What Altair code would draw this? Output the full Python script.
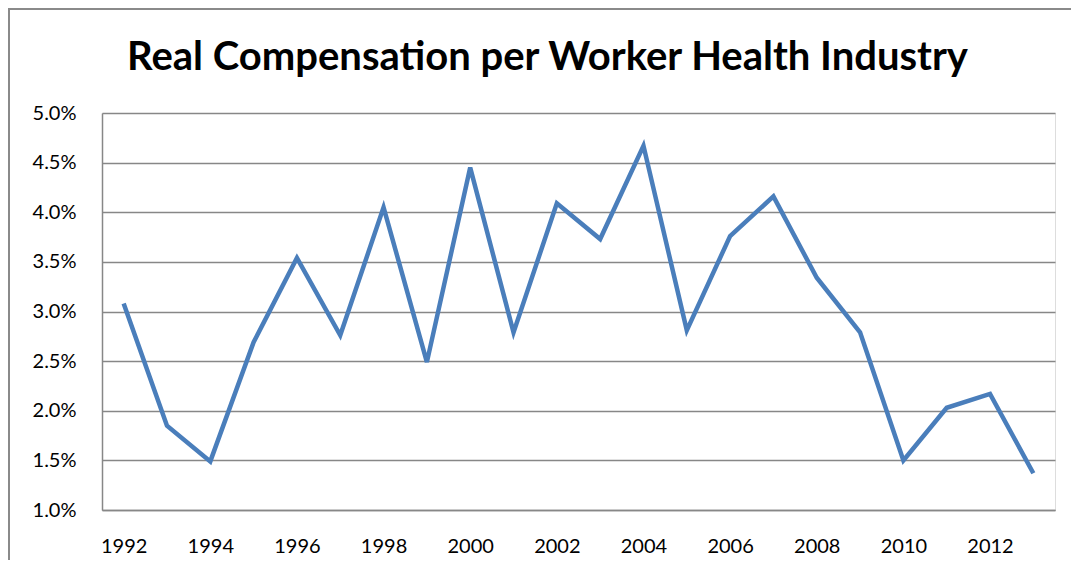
import altair as alt
import pandas as pd

years = [str(y) for y in range(1992, 2014)]
values = [3.08, 1.85, 1.49, 2.69, 3.54, 2.76, 4.05, 2.49, 4.45, 2.79,
          4.09, 3.73, 4.67, 2.81, 3.76, 4.16, 3.34, 2.79, 1.50, 2.03, 2.17, 1.37]
label_years = [str(y) for y in range(1992, 2014, 2)]
y_ticks = [1.0, 1.5, 2.0, 2.5, 3.0, 3.5, 4.0, 4.5, 5.0]

df = pd.DataFrame({"year": years, "value": [v / 100 for v in values]})

FONT = "Lato"
GRID = "#878787"
W, H = 953, 397

line = alt.Chart(df).mark_line(color="#4a7ebb", strokeWidth=4.5, strokeJoin="miter").encode(
    x=alt.X("year:O", sort=years,
            scale=alt.Scale(paddingInner=0, paddingOuter=0),
            axis=alt.Axis(title=None, values=label_years, labelAngle=0, ticks=False,
                          domainColor=GRID, domainWidth=1.5, labelPadding=26,
                          labelFontSize=20, labelFont=FONT, labelColor="#000000")),
    y=alt.Y("value:Q",
            scale=alt.Scale(domain=[0.01, 0.05], nice=False, zero=False),
            axis=alt.Axis(title=None, values=[v / 100 for v in y_ticks], format=".1%",
                          ticks=False, domainColor=GRID, domainWidth=1.5,
                          gridColor=GRID, gridWidth=1.5, labelPadding=26,
                          labelFontSize=20, labelFont=FONT, labelColor="#000000")),
)

border = alt.Chart(df).mark_rect(fill=None, stroke="#8a8a8a", strokeWidth=1.5, clip=False).encode(
    x=alt.value(-93), x2=alt.value(W + 40),
    y=alt.value(-104), y2=alt.value(H + 80),
)

chart = alt.layer(border, line).properties(
    width=W, height=H,
    title=alt.TitleParams("Real Compensation per Worker Health Industry",
                          font=FONT, fontSize=40, fontWeight="bold", color="#000000",
                          anchor="middle", offset=-70, dx=-31),
    autosize=alt.AutoSizeParams(type="none"),
    padding={"left": 94, "top": 105, "right": 16, "bottom": 50},
).configure_view(stroke=None).configure(background="white")

chart.save("out.html", embed_options={"renderer": "svg", "actions": False})
